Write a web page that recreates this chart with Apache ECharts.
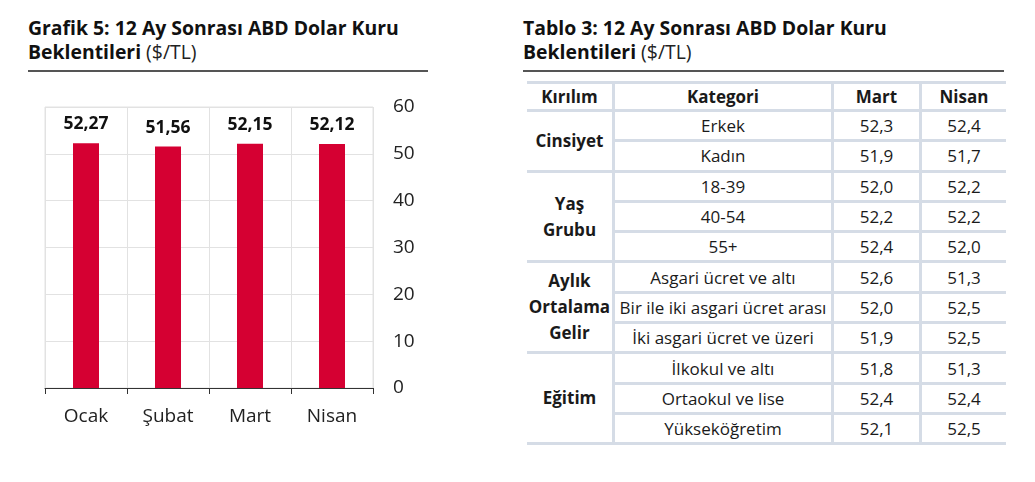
<!DOCTYPE html>
<html>
<head>
<meta charset="utf-8">
<script src="https://cdn.jsdelivr.net/npm/echarts@6/dist/echarts.min.js"></script>
<style>
  html, body { margin: 0; padding: 0; background: #fff; }
  body { width: 1035px; height: 482px; position: relative; overflow: hidden; font-family: "Open Sans", "Noto Sans", sans-serif; color: #111; }
  .title { position: absolute; top: 16px; font-size: 19.4px; line-height: 24px; font-weight: bold; color: #111; white-space: nowrap; }
  .title span { font-weight: normal; color: #222; }
  .rule { position: absolute; top: 70px; height: 2px; background: #555; }
  #chart { position: absolute; left: 0; top: 0; width: 450px; height: 482px; }
  table { position: absolute; left: 527px; top: 81px; border-collapse: collapse; font-size: 17px; color: #1a1a1a; }
  td, th { border: 3px solid #d5dce6; text-align: center; padding: 0; height: 27.3px; white-space: nowrap; }
  th { font-weight: bold; height: 25px; }
  td.grp { font-weight: bold; line-height: 26px; }
  tr > :first-child { border-left: none; }
  tr > :last-child { border-right: none; }
</style>
</head>
<body>
<div class="title" style="left:28px">Grafik 5: 12 Ay Sonrası ABD Dolar Kuru<br>Beklentileri <span>($/TL)</span></div>
<div class="rule" style="left:28px;width:400px"></div>
<div class="title" style="left:523px">Tablo 3: 12 Ay Sonrası ABD Dolar Kuru<br>Beklentileri <span>($/TL)</span></div>
<div class="rule" style="left:523px;width:481px"></div>
<div id="chart"></div>
<table id="tbl"></table>
<script>
// grafik verisi
const months = ['Ocak', 'Şubat', 'Mart', 'Nisan'];
const expectations = [52.27, 51.56, 52.15, 52.12];

// tablo verisi
const headers = ['Kırılım', 'Kategori', 'Mart', 'Nisan'];
const groups = ['Cinsiyet', 'Yaş\nGrubu', 'Aylık\nOrtalama\nGelir', 'Eğitim'];
const groupSizes = [2, 3, 3, 3];
const categories = ['Erkek', 'Kadın', '18-39', '40-54', '55+',
    'Asgari ücret ve altı', 'Bir ile iki asgari ücret arası', 'İki asgari ücret ve üzeri',
    'İlkokul ve altı', 'Ortaokul ve lise', 'Yükseköğretim'];
const martValues = [52.3, 51.9, 52.0, 52.2, 52.4, 52.6, 52.0, 51.9, 51.8, 52.4, 52.1];
const nisanValues = [52.4, 51.7, 52.2, 52.2, 52.0, 51.3, 52.5, 52.5, 51.3, 52.4, 52.5];

function fmt(v, d) {
    return v.toFixed(d).replace('.', ',');
}

let chart = echarts.init(document.getElementById('chart'));
let option = {
    animation: false,
    grid: {
        left: 45,
        top: 107,
        width: 328,
        height: 281,
        show: true,
        borderColor: '#e2e2e2',
        borderWidth: 1
    },
    xAxis: {
        type: 'category',
        data: months,
        axisLine: { lineStyle: { color: '#333', width: 1 } },
        axisTick: { show: true, length: 6, lineStyle: { color: '#333' } },
        axisLabel: { fontSize: 19, color: '#222', margin: 19, fontFamily: 'Open Sans' },
        splitLine: { show: true, lineStyle: { color: '#e2e2e2' } }
    },
    yAxis: {
        type: 'value',
        position: 'right',
        min: 0,
        max: 60,
        interval: 10,
        axisLine: { show: false },
        axisTick: { show: false },
        axisLabel: { fontSize: 19, color: '#222', margin: 20, fontFamily: 'Open Sans' },
        splitLine: { lineStyle: { color: '#e2e2e2' } }
    },
    series: [{
        type: 'bar',
        data: expectations,
        barWidth: 26,
        itemStyle: { color: '#D50032' },
        label: {
            show: true,
            position: 'top',
            distance: 10,
            fontSize: 17.5,
            fontWeight: 'bold',
            color: '#111',
            fontFamily: 'Open Sans',
            formatter: function (p) { return fmt(p.value, 2); }
        }
    }]
};
chart.setOption(option);

// tabloyu diziden kur
let html = '<tr>' + headers.map(function (h, i) {
    let w = [85, 216, 85, 84][i];
    return '<th style="width:' + w + 'px">' + h + '</th>';
}).join('') + '</tr>';
let k = 0;
groups.forEach(function (g, gi) {
    for (let j = 0; j < groupSizes[gi]; j++) {
        html += '<tr>';
        if (j === 0) {
            html += '<td class="grp" rowspan="' + groupSizes[gi] + '">' + g.replace(/\n/g, '<br>') + '</td>';
        }
        html += '<td>' + categories[k] + '</td><td>' + fmt(martValues[k], 1) + '</td><td>' + fmt(nisanValues[k], 1) + '</td></tr>';
        k++;
    }
});
document.getElementById('tbl').innerHTML = html;
</script>
</body>
</html>
